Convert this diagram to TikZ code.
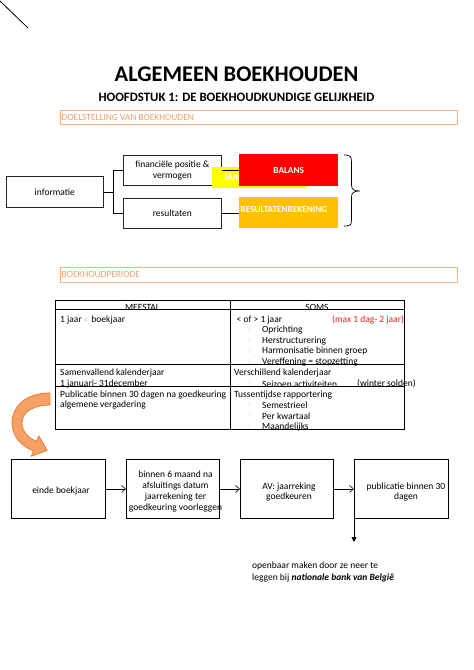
\documentclass[tikz,border=0pt]{standalone}
\usepackage{fontspec}
\setmainfont{Carlito}
\newfontfamily\symfont{DejaVu Sans}
\usetikzlibrary{arrows.meta}
\definecolor{secor}{RGB}{244,177,131}
\definecolor{sectext}{RGB}{240,160,110}
\definecolor{balred}{RGB}{255,0,0}
\definecolor{resor}{RGB}{255,192,0}
\definecolor{jaayel}{RGB}{255,255,0}
\definecolor{arrfill}{RGB}{245,160,100}
\definecolor{arrline}{RGB}{237,125,49}
\definecolor{maxred}{RGB}{230,30,30}
\newcommand{\blt}{{\symfont\fontsize{4.5}{4.5}\selectfont\color{gray}⋮}}
\begin{document}
\begin{tikzpicture}[x=1pt,y=-1pt,
  txt/.style={font=\fontsize{9.5}{10.7}\selectfont, inner sep=0pt},
  ctxt/.style={txt, align=center},
  sectxt/.style={font=\fontsize{9.4}{10}\selectfont, text=sectext, inner sep=0pt},
  secbox/.style={draw=secor, line width=1.1pt, inner sep=0pt, anchor=north west},
  ibox/.style={draw=black!85, line width=0.7pt, inner sep=0pt, anchor=north west},
  cbox/.style={inner sep=0pt, anchor=north west, text=white, font=\bfseries\fontsize{9.2}{10}\selectfont},
  fbox/.style={draw, line width=0.9pt, inner sep=0pt, anchor=north west, minimum height=59},
  tline/.style={line width=0.7pt},
  flow/.style={line width=0.6pt, -{Straight Barb[length=4pt,width=7pt]}}
]
\useasboundingbox (0,0) rectangle (474,670);

% top-left stroke
\coordinate (tla) at (0,1);
\coordinate (tlb) at (28,28);
\draw[line width=0.8pt] (tla) -- (tlb);

% titles
\node[inner sep=0pt, font=\bfseries\fontsize{22.4}{24}\selectfont] (title) at (236.5,74) {ALGEMEEN BOEKHOUDEN};
\node[inner sep=0pt, font=\bfseries\fontsize{12.8}{14}\selectfont] (subtitle) at (236.5,97) {HOOFDSTUK 1: DE BOEKHOUDKUNDIGE GELIJKHEID};

% section 1
\node[secbox, minimum width=397, minimum height=14] (sec1) at (60,110) {};
\node[sectxt, anchor=west] (sec1t) at (61.5,117.5) {DOELSTELLING VAN BOEKHOUDEN};

% informatie tree
\node[ibox, minimum width=97, minimum height=31, txt] (info) at (6,176) {informatie};
\node[ibox, minimum width=98, minimum height=30, ctxt] (fin) at (123,155) {financiële positie \&\\vermogen};
\node[ibox, minimum width=98, minimum height=30, txt] (res) at (123,198) {resultaten};
\draw[line width=0.7pt] (info.east) -- ++(10,0) |- (fin.west);
\draw[line width=0.7pt] (info.east) -- ++(10,0) |- (res.west);

\node[cbox, fill=jaayel, minimum width=95, minimum height=21] (jaa) at (212,167) {};
\node[cbox, anchor=west] (jaat) at (224,178) {JAARREKENING};
\node[cbox, fill=balred, minimum width=99, minimum height=32] (bal) at (239,154) {BALANS};
\node[cbox, fill=resor, minimum width=99, minimum height=31] (resrek) at (239,197) {};
\node[cbox] (resrekt) at (240.5,206.5) {RESULTATENREKENING};
\draw[line width=0.7pt] (fin.east) -- (fin.east -| bal.west);
\draw[line width=0.7pt] (res.east) -- (res.east -| resrek.west);

% brace
\draw[line width=0.7pt] (344,155) .. controls (351,155) and (351.5,157) .. (351.5,163) -- (351.5,185)
  .. controls (351.5,189.5) and (354,191) .. (360,191)
  .. controls (354,191) and (351.5,192.5) .. (351.5,197) -- (351.5,219)
  .. controls (351.5,225) and (351,226) .. (344,226);

% section 2
\node[secbox, minimum width=397, minimum height=15] (sec2) at (60,267) {};
\node[sectxt, anchor=west] (sec2t) at (61.5,274.5) {BOEKHOUDPERIODE};

% table
\draw[tline] (55,300) rectangle (404,429);
\draw[tline] (230,300) -- (230,429);
\draw[tline] (55,309.3) -- (404,309.3);
\draw[tline] (55,364) -- (404,364);
\draw[tline] (55,386) -- (404,386);

\node[txt] (hm) at (142.5,307.5) {MEESTAL};
\node[txt] (hs) at (317,307.5) {SOMS};

\node[txt, anchor=west] (l1) at (60,320) {1 jaar \raisebox{1.2pt}{{\symfont\fontsize{4.5}{4.5}\selectfont\color{gray}⊂}}\, boekjaar};
\node[txt, anchor=west] (r1) at (236.5,320) {< of > 1 jaar};
\node[txt, anchor=west, text=maxred] (r1m) at (332,320) {(max 1 dag- 2 jaar)};
\node[txt, anchor=west] (b1) at (247,330.5) {\blt};
\node[txt, anchor=west] (r2) at (262,330.5) {Oprichting};
\node[txt, anchor=west] (b2) at (247,341) {\blt};
\node[txt, anchor=west] (r3) at (262,341) {Herstructurering};
\node[txt, anchor=west] (b3) at (247,351.5) {\blt};
\node[txt, anchor=west] (r4) at (262,351.5) {Harmonisatie binnen groep};
\node[txt, anchor=west] (b4) at (247,362) {\blt};
\node[txt, anchor=west] (r5) at (262,362) {Vereffening = stopzetting};

\node[txt, anchor=west] (l2) at (60,373.5) {Samenvallend kalenderjaar};
\node[txt, anchor=west] (l3) at (60,384) {1 januari- 31december};
\node[txt, anchor=west] (r6) at (234,373.5) {Verschillend kalenderjaar};
\node[txt, anchor=west] (b5) at (247,384) {\blt};
\node[txt, anchor=west] (r7) at (262,384) {Seizoen activiteiten};
\node[txt, anchor=west] (r7w) at (357,384) {(winter solden)};

\node[txt, anchor=west] (l4) at (60,395) {Publicatie binnen 30 dagen na goedkeuring};
\node[txt, anchor=west] (l5) at (60,405.5) {algemene vergadering};
\node[txt, anchor=west] (r8) at (234,395) {Tussentijdse rapportering};
\node[txt, anchor=west] (b6) at (247,405.5) {\blt};
\node[txt, anchor=west] (r9) at (262,405.5) {Semestrieel};
\node[txt, anchor=west] (b7) at (247,416.5) {\blt};
\node[txt, anchor=west] (r10) at (262,416.5) {Per kwartaal};
\node[txt, anchor=west] (b8) at (247,427) {\blt};
\node[txt, anchor=west] (r11) at (262,427) {Maandelijks};

% curved orange arrow
\filldraw[fill=arrfill, draw=arrline, line width=0.8pt, line join=round]
  (50,393) .. controls (25,393) and (12,407) .. (12,423)
  .. controls (12,438) and (24,447.5) .. (33.3,450.7)
  -- (31.3,456.3) -- (47.2,450.4) -- (38.7,435.7) -- (36.7,441.3)
  .. controls (29,438.5) and (22,432) .. (22,423)
  .. controls (22,411) and (35,405) .. (50,405) -- cycle;

% flow
\node[fbox, minimum width=94] (f1) at (11,459) {};
\node[txt] (f1t) at (61,491) {einde boekjaar};
\node[fbox, minimum width=93] (f2) at (126,459) {};
\node[ctxt] (f2t) at (175.5,491.5) {binnen 6 maand na\\afsluitings datum\\jaarrekening ter\\goedkeuring voorleggen};
\node[fbox, minimum width=93] (f3) at (240,459) {};
\node[ctxt] (f3t) at (289,492) {AV: jaarreking\\goedkeuren};
\node[fbox, minimum width=94] (f4) at (354,459) {};
\node[ctxt] (f4t) at (406,492) {publicatie binnen 30\\dagen};
\draw[flow] (f1.east) -- (f2.west);
\draw[flow] (f2.east) -- (f3.west);
\draw[flow] (f3.east) -- (f4.west);
\coordinate (pubend) at (354,542);
\draw[line width=0.9pt, -{Triangle[length=5pt,width=5pt]}] (f4.south west) -- (pubend);

\node[txt, anchor=west] (o1) at (252,566) {openbaar maken door ze neer te};
\node[txt, anchor=west] (o2) at (252,578) {leggen bij \textbf{\textit{nationale bank van België}}};
\end{tikzpicture}
\end{document}
